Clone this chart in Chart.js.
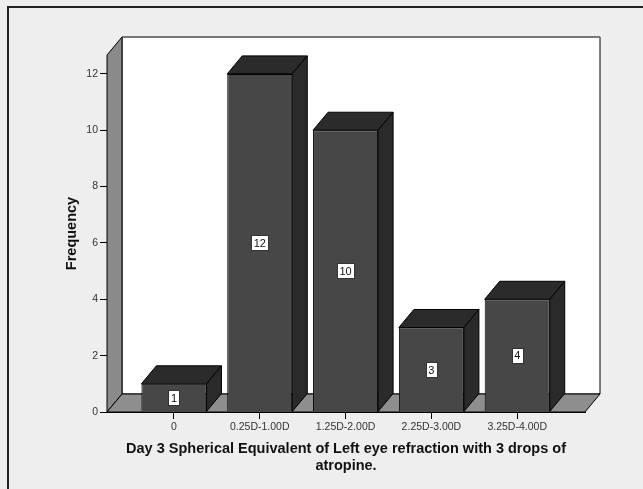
<!DOCTYPE html>
<html>
<head>
<meta charset="utf-8">
<script src="https://cdn.jsdelivr.net/npm/chart.js@4.4.0/dist/chart.umd.min.js"></script>
<style>
  body { margin: 0; background: #eeeeee; }
  canvas { display: block; }
</style>
</head>
<body>
<canvas id="myBarChart" width="643" height="489"></canvas>
<script>
  const categories = ['0', '0.25D-1.00D', '1.25D-2.00D', '2.25D-3.00D', '3.25D-4.00D'];
  const frequency = [1, 12, 10, 3, 4];
  const yTicks = [0, 2, 4, 6, 8, 10, 12];
  const xTitle = ['Day 3 Spherical Equivalent of Left eye refraction with 3 drops of', 'atropine.'];

  // depth offset of the 3D look
  const DX = 15, DY = -18;

  function poly(ctx, pts, fill) {
    ctx.beginPath();
    ctx.moveTo(pts[0][0], pts[0][1]);
    for (let i = 1; i < pts.length; i++) ctx.lineTo(pts[i][0], pts[i][1]);
    ctx.closePath();
    ctx.fillStyle = fill;
    ctx.fill();
    ctx.strokeStyle = '#000';
    ctx.lineWidth = 1;
    ctx.stroke();
  }

  const spssLook = {
    id: 'spssLook',
    beforeDraw(chart) {
      const c = chart.ctx;
      c.save();
      c.fillStyle = '#eeeeee';
      c.fillRect(0, 0, chart.width, chart.height);
      c.strokeStyle = '#222';
      c.lineWidth = 2;
      c.beginPath();
      c.moveTo(8, chart.height);
      c.lineTo(8, 7);
      c.lineTo(chart.width, 7);
      c.stroke();
      c.restore();
    },
    beforeDatasetsDraw(chart) {
      const c = chart.ctx;
      const a = chart.chartArea;
      c.save();
      // back wall
      poly(c, [[a.left + DX, a.top + DY], [a.right + DX, a.top + DY], [a.right + DX, a.bottom + DY], [a.left + DX, a.bottom + DY]], '#ffffff');
      c.strokeStyle = '#777';
      c.lineWidth = 2;
      c.beginPath();
      c.moveTo(a.left + DX, a.top + DY);
      c.lineTo(a.right + DX, a.top + DY);
      c.stroke();
      // left wall
      poly(c, [[a.left, a.top], [a.left + DX, a.top + DY], [a.left + DX, a.bottom + DY], [a.left, a.bottom]], '#8a8a8a');
      // floor
      poly(c, [[a.left, a.bottom], [a.left + DX, a.bottom + DY], [a.right + DX, a.bottom + DY], [a.right, a.bottom]], '#8e8e8e');
      c.restore();
    },
    afterDatasetsDraw(chart) {
      const c = chart.ctx;
      const meta = chart.getDatasetMeta(0);
      c.save();
      meta.data.forEach((bar, i) => {
        const p = bar.getProps(['x', 'y', 'base', 'width'], true);
        const x0 = p.x - p.width / 2, x1 = p.x + p.width / 2;
        // top face
        poly(c, [[x0, p.y], [x0 + DX, p.y + DY], [x1 + DX, p.y + DY], [x1, p.y]], '#2b2b2b');
        // side face
        poly(c, [[x1, p.y], [x1 + DX, p.y + DY], [x1 + DX, p.base + DY], [x1, p.base]], '#2a2a2a');
        // value label
        const txt = String(frequency[i]);
        c.font = '11px "Liberation Sans", Arial, sans-serif';
        const tw = c.measureText(txt).width;
        const bw = Math.round(tw + 5), bh = 15;
        const cy = (p.y + p.base) / 2;
        const bx = Math.round(p.x - bw / 2) + 0.5, by = Math.round(cy - bh / 2) + 0.5;
        c.fillStyle = '#ffffff';
        c.fillRect(bx, by, bw, bh);
        c.strokeStyle = '#333';
        c.lineWidth = 1;
        c.strokeRect(bx, by, bw, bh);
        c.fillStyle = '#111';
        c.textAlign = 'center';
        c.textBaseline = 'middle';
        c.fillText(txt, p.x, cy + 1);
      });
      c.restore();
    }
  };

  const ctx = document.getElementById('myBarChart').getContext('2d');

  const data = {
    datasets: [{
      label: 'Frequency',
      data: frequency.map((v, i) => ({ x: i, y: v })),
      backgroundColor: '#474747',
      borderColor: '#000',
      borderWidth: 1,
      barPercentage: 0.758,
      categoryPercentage: 1
    }]
  };

  const config = {
    type: 'bar',
    data: data,
    options: {
      responsive: false,
      animation: false,
      devicePixelRatio: 1,
      layout: { padding: { left: 0, right: 58, top: 55, bottom: 0 } },
      plugins: {
        legend: { display: false },
        tooltip: { enabled: false }
      },
      scales: {
        x: {
          type: 'linear',
          offset: false,
          min: -0.78,
          max: 4.79,
          afterBuildTicks: (scale) => { scale.ticks = categories.map((_, i) => ({ value: i })); },
          afterFit: (scale) => { scale.height = 77; },
          grid: { offset: false, drawOnChartArea: false, tickLength: 7, color: '#000' },
          border: { display: true, color: '#000' },
          ticks: {
            autoSkip: false,
            maxRotation: 0,
            padding: 2,
            color: '#333',
            font: { family: '"Liberation Sans", Arial, sans-serif', size: 10.5 },
            callback: (v) => categories[v]
          },
          title: {
            display: true,
            text: xTitle,
            color: '#111',
            padding: { top: 0, bottom: 15 },
            font: { family: '"Liberation Sans", Arial, sans-serif', size: 14.5, weight: 'bold', lineHeight: 1.15 }
          }
        },
        y: {
          min: 0,
          max: 12.67,
          afterBuildTicks: (scale) => { scale.ticks = yTicks.map(v => ({ value: v })); },
          afterFit: (scale) => { scale.width = 107; },
          grid: { drawOnChartArea: false, tickLength: 7, color: '#000' },
          border: { display: true, color: '#000' },
          ticks: {
            padding: 2,
            color: '#333',
            font: { family: '"Liberation Sans", Arial, sans-serif', size: 10.5 }
          },
          title: {
            display: true,
            text: 'Frequency',
            color: '#111',
            padding: { top: 63, bottom: 0 },
            font: { family: '"Liberation Sans", Arial, sans-serif', size: 14.5, weight: 'bold' }
          }
        }
      }
    },
    plugins: [spssLook]
  };

  const myBarChart = new Chart(ctx, config);
</script>
</body>
</html>
